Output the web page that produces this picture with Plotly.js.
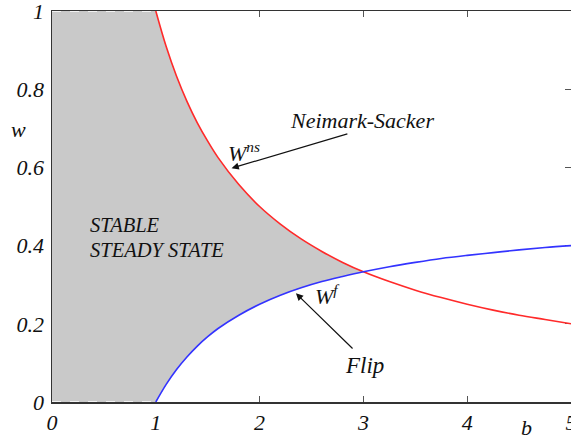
<!DOCTYPE html>
<html>
<head>
<meta charset="utf-8">
<script src="https://cdn.plot.ly/plotly-3.0.1.min.js"></script>
<style>html,body{margin:0;padding:0;background:#fff;}#chart{width:571px;height:440px;}</style>
</head>
<body>
<div id="chart"></div>
<script>
// Neimark-Sacker boundary W^ns (red)
const nsB = [1, 1.1, 1.2, 1.3, 1.4, 1.5, 1.6, 1.8, 2, 2.2, 2.4, 2.6, 2.8, 3, 3.25, 3.5, 3.75, 4, 4.25, 4.5, 4.75, 5];
const nsW = [1, 0.909, 0.833, 0.769, 0.714, 0.667, 0.625, 0.556, 0.5, 0.455, 0.417, 0.385, 0.357, 0.333, 0.308, 0.286, 0.267, 0.25, 0.235, 0.222, 0.211, 0.2];
// Flip boundary W^f (blue)
const flipB = [1, 1.1, 1.2, 1.3, 1.4, 1.5, 1.6, 1.8, 2, 2.2, 2.4, 2.6, 2.8, 3, 3.25, 3.5, 3.75, 4, 4.25, 4.5, 4.75, 5];
const flipW = [0, 0.045, 0.083, 0.115, 0.143, 0.167, 0.188, 0.222, 0.25, 0.273, 0.292, 0.308, 0.321, 0.333, 0.346, 0.357, 0.367, 0.375, 0.382, 0.389, 0.395, 0.4];
// stable region: bounded on the left by b = 0, w from 0 to 1, up to the crossing b = 3
const regionLeftB = [0, 0];
const regionLeftW = [1, 0];
const crossingB = 3;
const xTicks = [0, 1, 2, 3, 4, 5];
const xTickText = ["0", "1", "2", "3", "4", "5"];
const yTicks = [0, 0.2, 0.4, 0.6, 0.8, 1];
const yTickText = ["0", "0.2", "0.4", "0.6", "0.8", "1"];

// build the shaded polygon from the arrays
const polyB = [], polyW = [];
polyB.push(regionLeftB[0], regionLeftB[1]); polyW.push(regionLeftW[0], regionLeftW[1]);
for (let i = 0; i < flipB.length; i++) if (flipB[i] <= crossingB) { polyB.push(flipB[i]); polyW.push(flipW[i]); }
for (let i = nsB.length - 1; i >= 0; i--) if (nsB[i] <= crossingB) { polyB.push(nsB[i]); polyW.push(nsW[i]); }
polyB.push(regionLeftB[0]); polyW.push(regionLeftW[0]);

const serif = 'Liberation Serif';
const tf = (s) => ({family: serif, size: s, style: 'italic', color: '#111'});
const traces = [
  {x: polyB, y: polyW, mode: 'lines', fill: 'toself', fillcolor: '#c9c9c9', line: {width: 0}, hoverinfo: 'skip', cliponaxis: false},
  {x: [regionLeftB[0], nsB[0]], y: [regionLeftW[0], nsW[0]], mode: 'lines', line: {color: '#ffffff', width: 1.5, dash: 'dash'}, cliponaxis: false},
  {x: [regionLeftB[1], flipB[0]], y: [regionLeftW[1], flipW[0]], mode: 'lines', line: {color: '#ffffff', width: 1.5, dash: 'dash'}, cliponaxis: false},
  {x: nsB, y: nsW, mode: 'lines', line: {color: '#ff2a2a', width: 1.6, shape: 'spline'}},
  {x: flipB, y: flipW, mode: 'lines', line: {color: '#3333ff', width: 1.6, shape: 'spline'}}
];

const layout = {
  width: 571, height: 440,
  margin: {l: 52, r: 0, t: 11, b: 38},
  paper_bgcolor: '#ffffff', plot_bgcolor: '#ffffff',
  showlegend: false,
  font: {family: serif},
  xaxis: {range: [0, 5], tickvals: xTicks, ticktext: xTickText, ticks: 'inside', ticklen: 6, tickcolor: '#555',
          showline: true, linecolor: '#333', linewidth: 1.5, mirror: 'ticks', showgrid: false, zeroline: false,
          layer: 'below traces', ticklabeloverflow: 'allow', tickfont: tf(22)},
  yaxis: {range: [0, 1], tickvals: yTicks, ticktext: yTickText, ticks: 'inside', ticklen: 6, tickcolor: '#555',
          showline: true, linecolor: '#333', linewidth: 1.5, mirror: 'ticks', showgrid: false, zeroline: false,
          layer: 'below traces', ticklabeloverflow: 'allow', ticklabelstandoff: 2, tickfont: tf(22)},
  annotations: [
    {xref: 'paper', yref: 'paper', x: -0.0655, y: 0.696, xanchor: 'center', yanchor: 'middle', text: 'w', showarrow: false, font: tf(22)},
    {xref: 'x', yref: 'paper', x: 4.57, y: -0.064, xanchor: 'center', yanchor: 'middle', text: 'b', showarrow: false, font: tf(22)},
    {x: 0.347, y: 0.453, text: 'STABLE', showarrow: false, xanchor: 'left', yanchor: 'middle', font: tf(20.5)},
    {x: 0.347, y: 0.389, text: 'STEADY STATE', showarrow: false, xanchor: 'left', yanchor: 'middle', font: tf(20.5)},
    {x: 2.27, y: 0.719, text: 'Neimark-Sacker', showarrow: false, xanchor: 'left', yanchor: 'middle', font: tf(22)},
    {x: 1.68, y: 0.64, text: 'W<sup>ns</sup>', showarrow: false, xanchor: 'left', yanchor: 'middle', font: tf(22)},
    {x: 1.73, y: 0.598, ax: 2.86, ay: 0.687, axref: 'x', ayref: 'y', text: '', showarrow: true, arrowhead: 2, arrowsize: 1.2, arrowwidth: 1.2, arrowcolor: '#111'},
    {x: 2.51, y: 0.274, text: 'W<sup>f</sup>', showarrow: false, xanchor: 'left', yanchor: 'middle', font: tf(22)},
    {x: 2.35, y: 0.278, ax: 2.91, ay: 0.133, axref: 'x', ayref: 'y', text: '', showarrow: true, arrowhead: 2, arrowsize: 1.2, arrowwidth: 1.2, arrowcolor: '#111'},
    {x: 2.8, y: 0.093, text: 'Flip', showarrow: false, xanchor: 'left', yanchor: 'middle', font: tf(23)}
  ]
};
Plotly.newPlot('chart', traces, layout, {staticPlot: true, displayModeBar: false});
</script>
</body>
</html>
